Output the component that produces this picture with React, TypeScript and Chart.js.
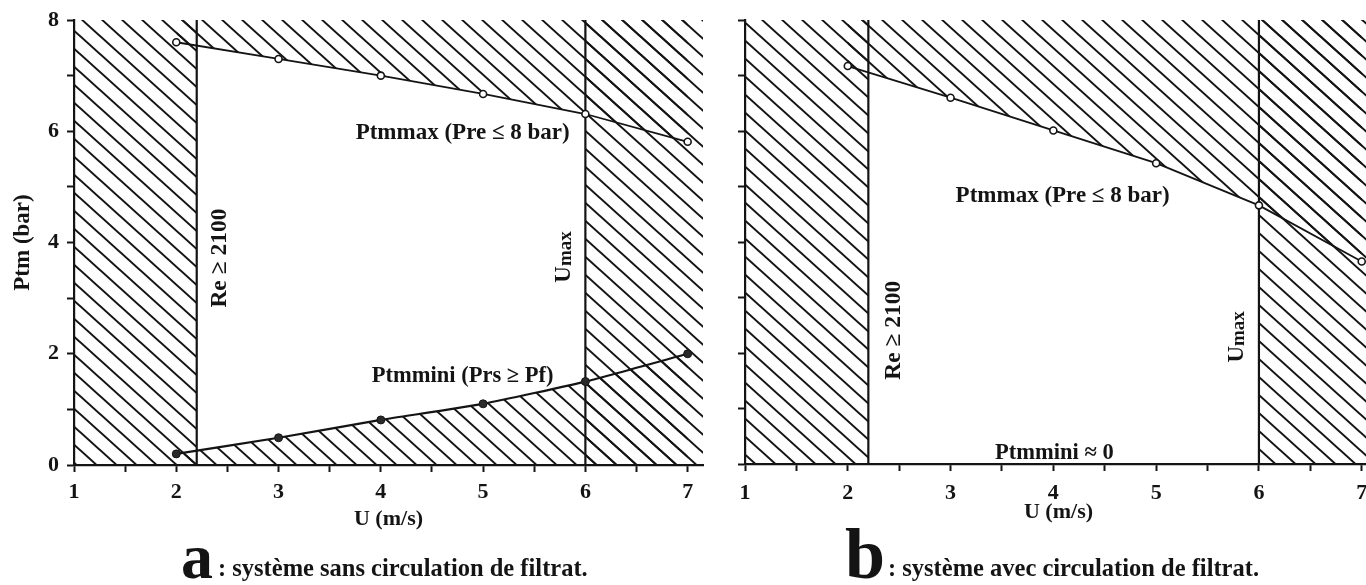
import React, { useEffect, useRef } from 'react';
import { Chart, registerables } from 'chart.js';

Chart.register(...registerables);

const SERIF = '"Liberation Serif", "Times New Roman", Times, serif';
const INK = '#141414';

// ---------------- data ----------------
const uValues = [2, 3, 4, 5, 6, 7];
const ptmMaxA = [7.6, 7.3, 7.0, 6.67, 6.31, 5.81];
const ptmMinA = [0.2, 0.49, 0.81, 1.1, 1.5, 2.0];
const ptmMaxB = [7.17, 6.6, 6.01, 5.42, 4.66, 3.65];
const reLimit = 2.2; // Re ≥ 2100
const uMaxLimit = 6; // Umax
const ptmLimit = 8; // Pre ≤ 8 bar
const uRangeA = [1, 7.15];
const uRangeB = [1, 7.1];
const ptmRange = [0, 8];
const xTickValues = [1, 1.5, 2, 2.5, 3, 3.5, 4, 4.5, 5, 5.5, 6, 6.5, 7];
const xTickLabels = [1, 2, 3, 4, 5, 6, 7];
const yTickValues = [0, 1, 2, 3, 4, 5, 6, 7, 8];
const yTickLabelsA = [0, 2, 4, 6, 8];
const yTickLabelsB: number[] = [];

type Note = {
  text: string;
  u: number;
  p: number;
  size: number;
  vertical?: boolean;
  sub?: string;
  subSize?: number;
};

type Caption = {
  letter: string;
  letterSize: number;
  text: string;
  letterX: number;
  textX: number;
  baseline: number;
};

const notesA: Note[] = [
  { text: 'Ptmmax (Pre ≤ 8 bar)', u: 4.8, p: 6.0, size: 23 },
  { text: 'Ptmmini (Prs ≥ Pf)', u: 4.8, p: 1.62, size: 22.5 },
  { text: 'Re ≥ 2100', u: 2.41, p: 3.72, size: 23.5, vertical: true },
  { text: 'U', u: 5.78, p: 3.74, size: 23, vertical: true, sub: 'max', subSize: 19 },
];

const notesB: Note[] = [
  { text: 'Ptmmax (Pre ≤ 8 bar)', u: 4.09, p: 4.85, size: 23 },
  { text: 'Ptmmini ≈ 0', u: 4.01, p: 0.22, size: 22.5 },
  { text: 'Re ≥ 2100', u: 2.43, p: 2.41, size: 23.5, vertical: true },
  { text: 'U', u: 5.77, p: 2.29, size: 23, vertical: true, sub: 'max', subSize: 19 },
];

const captionA: Caption = {
  letter: 'a',
  letterSize: 64,
  text: ': système sans circulation de filtrat.',
  letterX: 181,
  textX: 218,
  baseline: 578,
};
const captionB: Caption = {
  letter: 'b',
  letterSize: 72,
  text: ': système avec circulation de filtrat.',
  letterX: 125,
  textX: 168,
  baseline: 578,
};

function makeHatch(): CanvasPattern | string {
  const W = 20;
  const H = 18;
  const c = document.createElement('canvas');
  c.width = W;
  c.height = H;
  const g = c.getContext('2d');
  if (!g) return INK;
  g.strokeStyle = INK;
  g.lineWidth = 2;
  for (const off of [-H, 0, H]) {
    g.beginPath();
    g.moveTo(-W, off - H);
    g.lineTo(2 * W, off + 2 * H);
    g.stroke();
  }
  return g.createPattern(c, 'repeat') || INK;
}

function notesPlugin(notes: Note[], caption: Caption) {
  return {
    id: 'notes',
    afterDatasetsDraw(chart: any) {
      const ctx: CanvasRenderingContext2D = chart.ctx;
      const xs = chart.scales.x;
      const ys = chart.scales.y;
      ctx.save();
      ctx.fillStyle = INK;
      ctx.textBaseline = 'alphabetic';
      ctx.textAlign = 'left';
      for (const n of notes) {
        const px = xs.getPixelForValue(n.u);
        const py = ys.getPixelForValue(n.p);
        ctx.save();
        ctx.translate(px, py);
        if (n.vertical) ctx.rotate(-Math.PI / 2);
        ctx.font = `bold ${n.size}px ${SERIF}`;
        const w1 = ctx.measureText(n.text).width;
        let w2 = 0;
        if (n.sub) {
          ctx.font = `bold ${n.subSize}px ${SERIF}`;
          w2 = ctx.measureText(n.sub).width;
        }
        const x0 = -(w1 + w2) / 2;
        const base = n.size * 0.33;
        ctx.font = `bold ${n.size}px ${SERIF}`;
        ctx.fillText(n.text, x0, base);
        if (n.sub) {
          ctx.font = `bold ${n.subSize}px ${SERIF}`;
          ctx.fillText(n.sub, x0 + w1, base + 1);
        }
        ctx.restore();
      }
      ctx.restore();
    },
    afterDraw(chart: any) {
      const ctx: CanvasRenderingContext2D = chart.ctx;
      ctx.save();
      ctx.fillStyle = INK;
      ctx.textBaseline = 'alphabetic';
      ctx.textAlign = 'left';
      ctx.font = `bold ${caption.letterSize}px ${SERIF}`;
      ctx.fillText(caption.letter, caption.letterX, caption.baseline);
      ctx.font = `bold 24.5px ${SERIF}`;
      ctx.fillText(caption.text, caption.textX, caption.baseline - 2);
      ctx.restore();
    },
  };
}

type PanelSpec = {
  maxSeries: number[];
  minSeries: number[] | null;
  uRange: number[];
  yLabels: number[];
  yTitle: string | null;
  yAxisWidth: number;
  padding: { top: number; left: number; right: number; bottom: number };
  xTickPad: number;
  xTitlePad: number;
  notes: Note[];
  caption: Caption;
};

function buildConfig(spec: PanelSpec): any {
  const hatch = makeHatch();
  const pts = (ys: number[]) => uValues.map((u, i) => ({ x: u, y: ys[i] }));
  const datasets: any[] = [];
  datasets.push({
    label: 'Ptmmax',
    data: pts(spec.maxSeries),
    borderColor: INK,
    borderWidth: 1.8,
    pointRadius: 3.5,
    pointBackgroundColor: '#ffffff',
    pointBorderColor: INK,
    pointBorderWidth: 1.6,
    fill: 'end',
    backgroundColor: hatch,
    tension: 0,
  });
  if (spec.minSeries) {
    datasets.push({
      label: 'Ptmmini',
      data: pts(spec.minSeries),
      borderColor: INK,
      borderWidth: 2.2,
      pointRadius: 4,
      pointBackgroundColor: '#2a2a2a',
      pointBorderColor: INK,
      pointBorderWidth: 1,
      fill: 'origin',
      backgroundColor: hatch,
      tension: 0.15,
    });
  }
  datasets.push({
    label: 'Re ≥ 2100',
    data: [
      { x: reLimit, y: ptmRange[0] },
      { x: reLimit, y: ptmLimit },
    ],
    borderColor: INK,
    borderWidth: 2.2,
    pointRadius: 0,
    fill: false,
  });
  datasets.push({
    label: 'Umax',
    data: [
      { x: uMaxLimit, y: ptmRange[0] },
      { x: uMaxLimit, y: ptmLimit },
    ],
    borderColor: INK,
    borderWidth: 2.2,
    pointRadius: 0,
    fill: false,
  });
  datasets.push({
    label: 'zone Re',
    data: [
      { x: spec.uRange[0], y: ptmLimit },
      { x: reLimit, y: ptmLimit },
    ],
    borderColor: 'rgba(0,0,0,0)',
    borderWidth: 1,
    pointRadius: 0,
    fill: 'origin',
    backgroundColor: hatch,
  });
  datasets.push({
    label: 'zone Umax',
    data: [
      { x: uMaxLimit, y: ptmLimit },
      { x: spec.uRange[1], y: ptmLimit },
    ],
    borderColor: 'rgba(0,0,0,0)',
    borderWidth: 1,
    pointRadius: 0,
    fill: 'origin',
    backgroundColor: hatch,
  });

  const tickFont = { family: SERIF, size: 22, weight: 'bold' };
  const yTickFont = { family: SERIF, size: 22, weight: 'bold', lineHeight: 1 };
  const titleFont = { family: SERIF, size: 22, weight: 'bold' };

  return {
    type: 'line',
    data: { datasets },
    plugins: [notesPlugin(spec.notes, spec.caption)],
    options: {
      animation: false,
      responsive: false,
      maintainAspectRatio: false,
      devicePixelRatio: 1,
      events: [],
      layout: { padding: spec.padding },
      plugins: {
        legend: { display: false },
        tooltip: { enabled: false },
        title: { display: false },
      },
      scales: {
        x: {
          type: 'linear',
          min: spec.uRange[0],
          max: spec.uRange[1],
          afterBuildTicks: (s: any) => {
            s.ticks = xTickValues.map((v) => ({ value: v }));
          },
          afterFit: (s: any) => {
            s.height = 70;
          },
          ticks: {
            autoSkip: false,
            maxRotation: 0,
            minRotation: 0,
            padding: spec.xTickPad,
            color: INK,
            font: tickFont,
            callback: (v: number) => (xTickLabels.includes(v) ? String(v) : ''),
          },
          grid: {
            display: true,
            drawOnChartArea: false,
            drawTicks: true,
            tickLength: 7,
            tickWidth: 2,
            tickColor: INK,
          },
          border: { display: true, color: INK, width: 2.2 },
          title: {
            display: true,
            text: 'U (m/s)',
            color: INK,
            font: titleFont,
            padding: { top: 0, bottom: spec.xTitlePad },
          },
        },
        y: {
          type: 'linear',
          min: ptmRange[0],
          max: ptmRange[1],
          afterBuildTicks: (s: any) => {
            s.ticks = yTickValues.map((v) => ({ value: v }));
          },
          afterFit: (s: any) => {
            s.width = spec.yAxisWidth;
          },
          ticks: {
            autoSkip: false,
            padding: 8,
            color: INK,
            font: yTickFont,
            callback: (v: number) => (spec.yLabels.includes(v) ? String(v) : ''),
          },
          grid: {
            display: true,
            drawOnChartArea: false,
            drawTicks: true,
            tickLength: 7,
            tickWidth: 2,
            tickColor: INK,
          },
          border: { display: true, color: INK, width: 2.2 },
          title: {
            display: !!spec.yTitle,
            text: spec.yTitle || '',
            color: INK,
            font: { family: SERIF, size: 23, weight: 'bold' },
            padding: { top: 9, bottom: 0 },
          },
        },
      },
    },
  };
}

const specA: PanelSpec = {
  maxSeries: ptmMaxA,
  minSeries: ptmMinA,
  uRange: uRangeA,
  yLabels: yTickLabelsA,
  yTitle: 'Ptm (bar)',
  yAxisWidth: 74,
  padding: { top: 20, left: 0, right: 17, bottom: 50 },
  xTickPad: 7,
  xTitlePad: 2,
  notes: notesA,
  caption: captionA,
};

const specB: PanelSpec = {
  maxSeries: ptmMaxB,
  minSeries: null,
  uRange: uRangeB,
  yLabels: yTickLabelsB,
  yTitle: null,
  yAxisWidth: 25,
  padding: { top: 20, left: 0, right: 8, bottom: 51 },
  xTickPad: 9,
  xTitlePad: 8,
  notes: notesB,
  caption: captionB,
};

function Panel({ spec, left, width }: { spec: PanelSpec; left: number; width: number }) {
  const ref = useRef<HTMLCanvasElement | null>(null);
  useEffect(() => {
    if (!ref.current) return;
    const chart = new Chart(ref.current, buildConfig(spec));
    return () => {
      chart.destroy();
    };
  }, [spec]);
  return (
    <canvas
      ref={ref}
      width={width}
      height={585}
      style={{ position: 'absolute', left, top: 0, width, height: 585, display: 'block' }}
    />
  );
}

export default function App() {
  return (
    <div
      style={{
        position: 'fixed',
        left: 0,
        top: 0,
        width: 1366,
        height: 585,
        overflow: 'hidden',
        background: '#ffffff',
      }}
    >
      <Panel spec={specA} left={0} width={720} />
      <Panel spec={specB} left={720} width={660} />
    </div>
  );
}
